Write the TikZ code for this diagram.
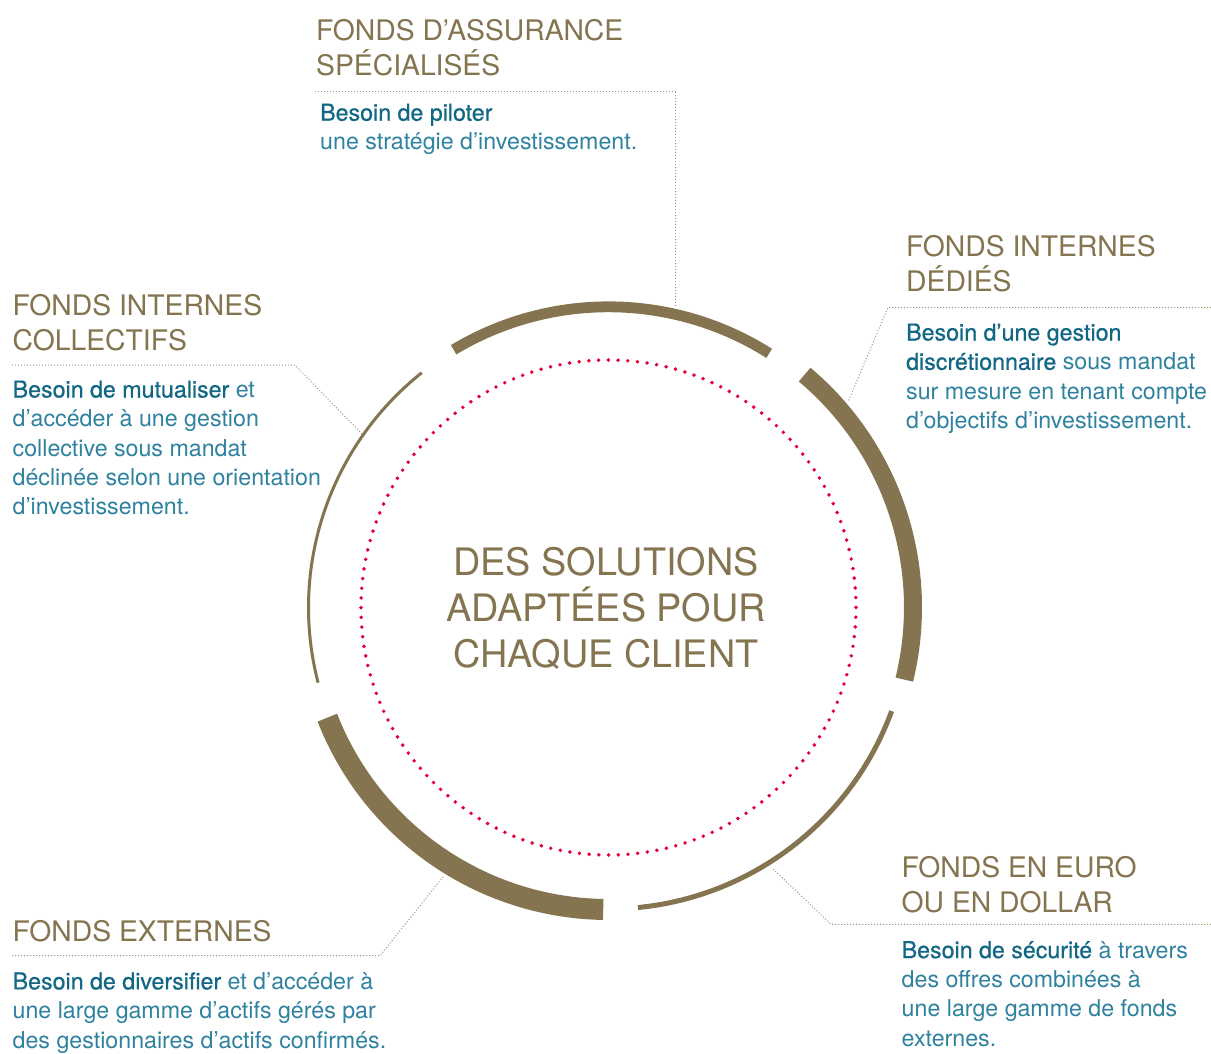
\documentclass[tikz,border=0pt]{standalone}
\usepackage{fontspec}
\setmainfont{TeX Gyre Heros}
\newfontfamily\needstrong[FakeBold=0.6]{TeX Gyre Heros}
\definecolor{gold}{HTML}{847550}
\definecolor{needblue}{HTML}{2E82A0}
\definecolor{needdark}{HTML}{116784}
\definecolor{dotred}{HTML}{E4003B}
\definecolor{leadgray}{HTML}{A0957B}
\newcommand{\needkey}[1]{{\needstrong\color{needdark}#1}}

\begin{document}
\begin{tikzpicture}[x=1pt,y=-1pt,
	title/.style={anchor=base west,inner sep=0pt,align=left,text=gold,font=\fontsize{28.3}{35}\selectfont},
	need/.style={anchor=base west,inner sep=0pt,align=left,text=needblue,font=\fontsize{23.2}{29.3}\selectfont},
	leader/.style={leadgray,line width=1pt,dash pattern=on 1pt off 2pt},
	ring/.style={gold}]
	\useasboundingbox[fill=white] (0,0) rectangle (1211,1054);
	\coordinate (centre) at (608.5,607.5);

	% centre (base = last line)
	\draw[dotred,line width=3.9pt,line cap=round,dash pattern=on 0pt off 9.719pt] (centre) circle[radius=247.5];
	\node[anchor=base,inner sep=0pt,align=center,text=gold,font=\fontsize{37.8}{46}\selectfont] (claim) at (606,667)
		{DES SOLUTIONS\\ADAPTÉES POUR\\CHAQUE CLIENT};

	% ring segments
	\draw[ring,line width=10.8pt] (centre) ++(-57.7:300.7) arc[start angle=-57.7,end angle=-121,radius=300.7];
	\draw[ring,line width=18pt] (centre) ++(13.7:304.5) arc[start angle=13.7,end angle=-49.9,radius=304.5];
	\draw[ring,line width=5pt] (centre) ++(84.4:301.5) arc[start angle=84.4,end angle=20.1,radius=301.5];
	\draw[ring,line width=21pt] (centre) ++(-201.4:302) arc[start angle=-201.4,end angle=-269,radius=302];
	\draw[ring,line width=3pt] (centre) ++(-128.5:300) arc[start angle=-128.5,end angle=-194.5,radius=300];

	% fonds d'assurance specialises
	\node[title] (specTitle) at (316,76) {FONDS D’ASSURANCE\\SPÉCIALISÉS};
	\node[need] (specNeed) at (320,150) {\needkey{Besoin de piloter}\\une stratégie d’investissement.};
	\coordinate (specL) at (315,91.7);
	\coordinate (specK) at (675,91.7);
	\coordinate (specT) at (675,305);
	\draw[leader] (specL) -- (specK) -- (specT);

	% fonds internes dedies
	\node[title] (dedTitle) at (906,291) {FONDS INTERNES\\DÉDIÉS};
	\node[need] (dedNeed) at (906,428.4) {\needkey{Besoin d’une gestion}\\\needkey{discrétionnaire} sous mandat\\sur mesure en tenant compte\\d’objectifs d’investissement.};
	\coordinate (dedR) at (1211,307.3);
	\coordinate (dedK) at (888,307.3);
	\coordinate (dedT) at (848,402);
	\draw[leader] (dedR) -- (dedK) -- (dedT);

	% fonds internes collectifs
	\node[title] (colTitle) at (12.5,350.5) {FONDS INTERNES\\COLLECTIFS};
	\node[need] (colNeed) at (12.5,514.7) {\needkey{Besoin de mutualiser} et\\d’accéder à une gestion\\collective sous mandat\\déclinée selon une orientation\\d’investissement.};
	\coordinate (colL) at (12,365);
	\coordinate (colK) at (295,365);
	\coordinate (colT) at (362,434);
	\draw[leader] (colL) -- (colK) -- (colT);

	% fonds externes
	\node[title] (extTitle) at (12.5,941.7) {FONDS EXTERNES};
	\node[need] (extNeed) at (12.5,1048) {\needkey{Besoin de diversifier} et d’accéder à\\une large gamme d’actifs gérés par\\des gestionnaires d’actifs confirmés.};
	\coordinate (extL) at (12,955.7);
	\coordinate (extK) at (380,955.7);
	\coordinate (extT) at (443,877);
	\draw[leader] (extL) -- (extK) -- (extT);

	% fonds en euro ou en dollar
	\node[title] (euroTitle) at (901.5,912) {FONDS EN EURO\\OU EN DOLLAR};
	\node[need] (euroNeed) at (901.5,1046) {\needkey{Besoin de sécurité} à travers\\des offres combinées à\\une large gamme de fonds\\externes.};
	\coordinate (euroR) at (1211,924.3);
	\coordinate (euroK) at (831,924.3);
	\coordinate (euroT) at (772,868);
	\draw[leader] (euroR) -- (euroK) -- (euroT);
\end{tikzpicture}
\end{document}
